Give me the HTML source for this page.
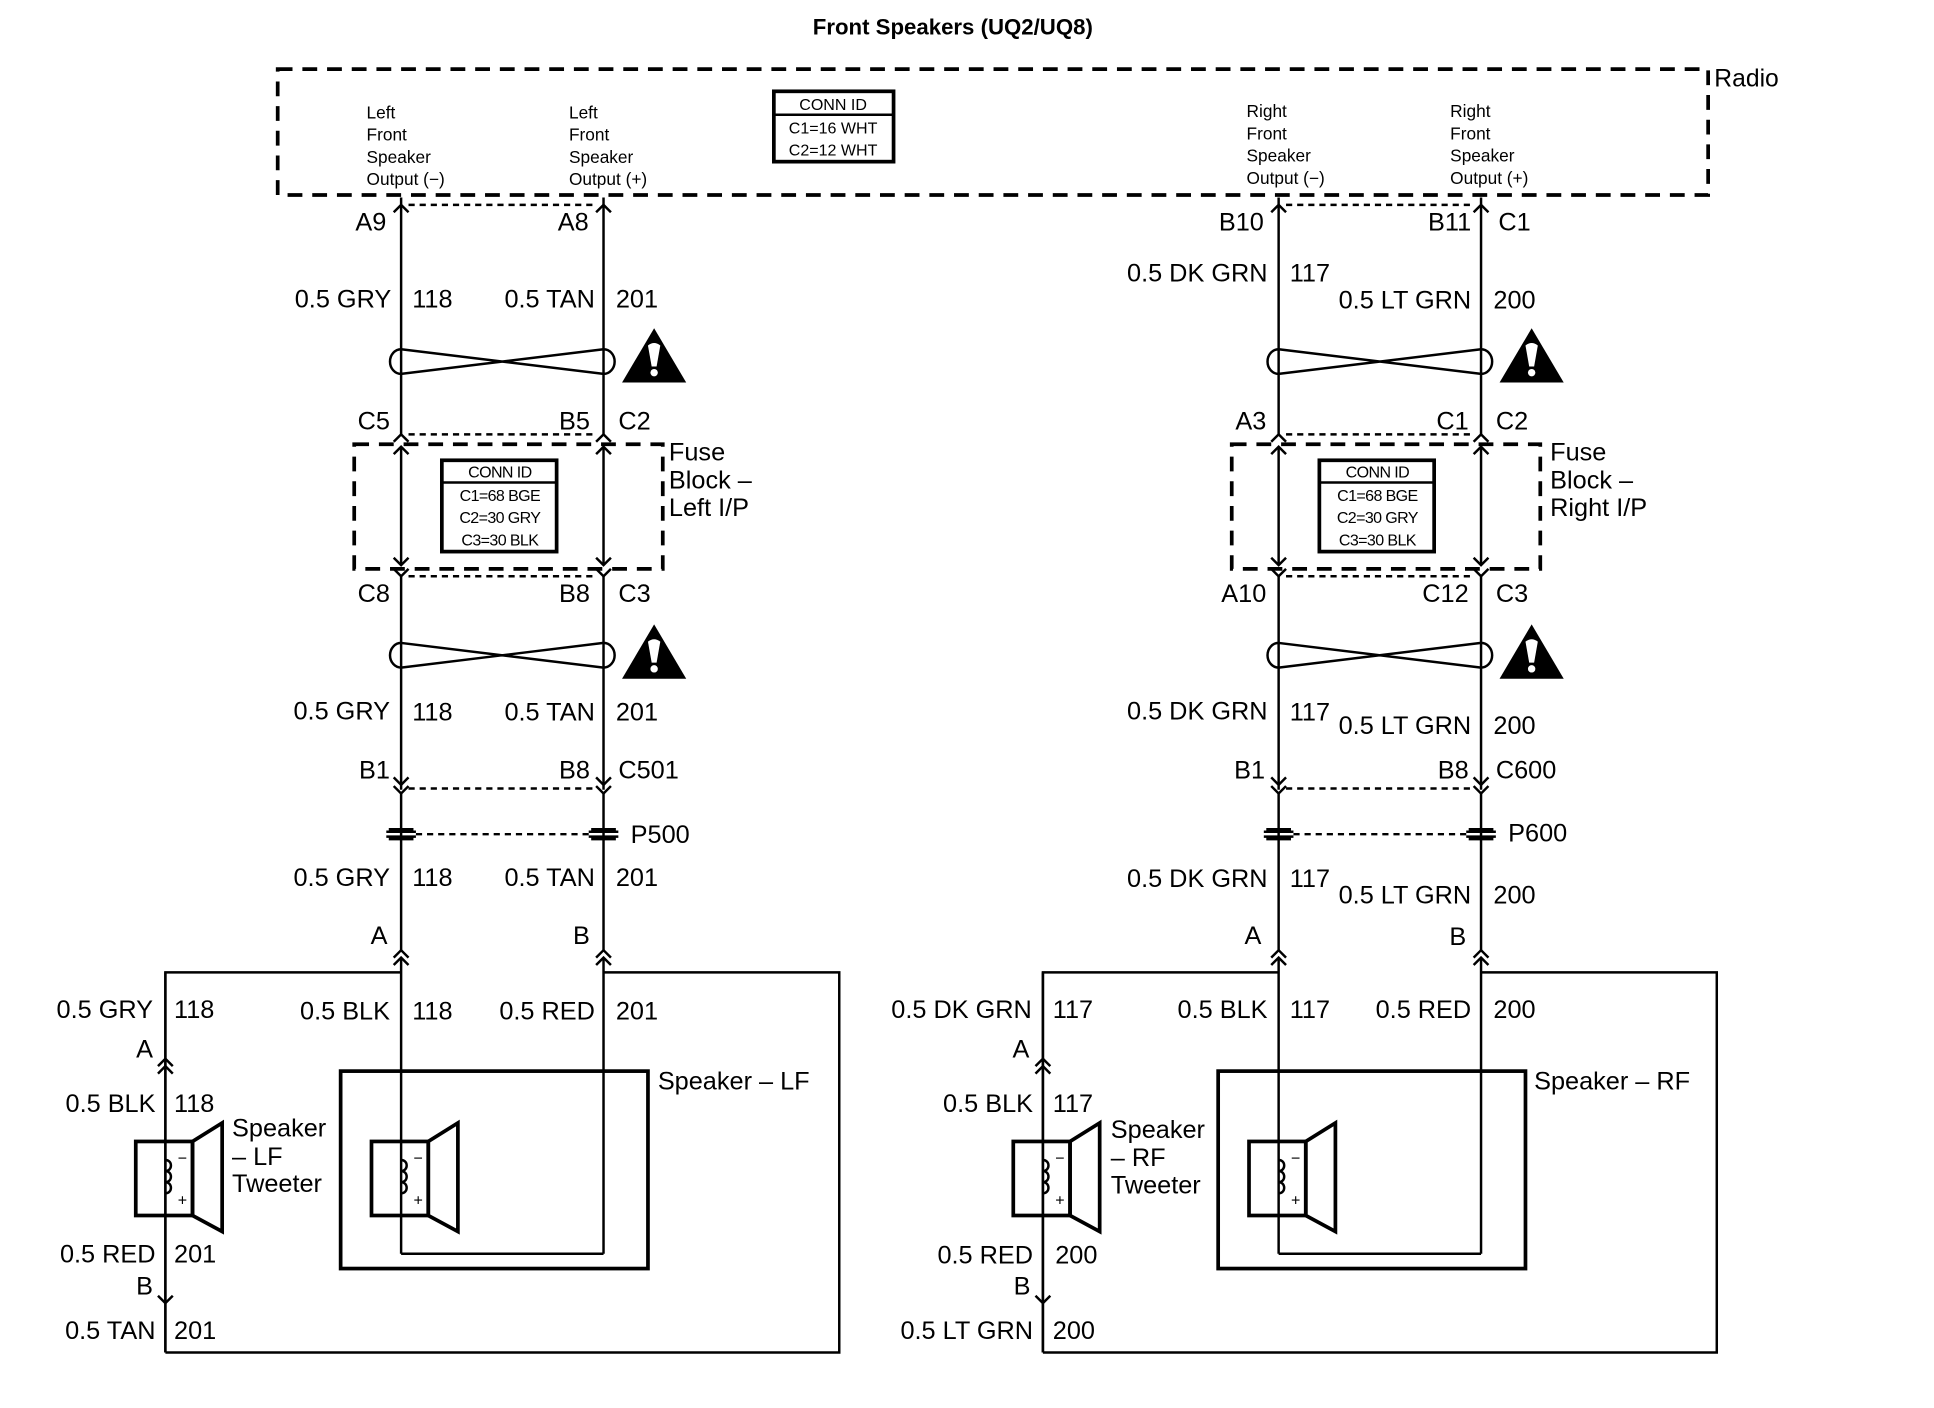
<!DOCTYPE html>
<html><head><meta charset="utf-8"><style>
html,body{margin:0;padding:0;background:#fff;}
svg{display:block}
text{font-family:"Liberation Sans",Arial,sans-serif;fill:#000}
</style></head><body>
<svg width="1934" height="1408" viewBox="0 0 1567 1141" preserveAspectRatio="none" xmlns="http://www.w3.org/2000/svg">
<defs>
<g id="twist" fill="none" stroke="#000" stroke-width="2">
 <path d="M0,-10 L164,10 A9,10 0 0 0 164,-10 L0,10 A9,10 0 0 1 0,-10 Z"/>
</g>
<g id="plug" fill="none" stroke="#000" stroke-width="2"><path d="M-10,-4 H10 M-10,4 H10 M-12,-2 H12 M-12,2 H12"/></g>
<g id="warn">
 <polygon points="0,-24 26,20 -26,20"/>
 <path d="M-5,-10 Q0,-14 5,-10 L2,7 H-2 Z" fill="#fff"/>
 <circle cx="0" cy="12" r="3" fill="#fff"/>
</g>
<g id="spk" fill="none" stroke="#000" stroke-width="3">
 <rect x="-24" y="15" width="46" height="60"/>
 <polygon points="22,15 46,0 46,88 22,75"/>
 <path d="M0,30 c6,0 6,9 0,9 c6,0 6,9 0,9 c6,0 6,9 0,9" stroke-width="2"/>
</g>
<g id="col">
 <g stroke="#000" stroke-width="2" fill="none">
  <line x1="0" y1="160" x2="0" y2="352"/><line x1="164" y1="160" x2="164" y2="352"/>
  <line x1="0" y1="362" x2="0" y2="458"/><line x1="164" y1="362" x2="164" y2="458"/>
  <line x1="0" y1="467" x2="0" y2="640"/><line x1="164" y1="467" x2="164" y2="640"/>
  <line x1="0" y1="643" x2="0" y2="770"/><line x1="164" y1="643" x2="164" y2="770"/>
  <path d="M-6,368 L0,362 L6,368 M-6,452 L0,458 L6,452 M158,368 L164,362 L170,368 M158,452 L164,458 L170,452"/>
  <path d="M-6,630 L0,636 L6,630 M158,630 L164,636 L170,630"/>
  <path d="M-6,637 L0,643 L6,637 M158,637 L164,643 L170,637"/>
  <path d="M-6,172 L0,166 L6,172 M158,172 L164,166 L170,172"/>
  <path d="M-6,358 L0,352 L6,358 M158,358 L164,352 L170,358"/>
  <path d="M-6,461 L0,467 L6,461 M158,461 L164,467 L170,461"/>
  <path d="M-6,776 L0,770 L6,776 M-6,782 L0,776 L6,782 M158,776 L164,770 L170,776 M158,782 L164,776 L170,782"/>
  <line x1="0" y1="776" x2="0" y2="1016"/><line x1="164" y1="776" x2="164" y2="1016"/>
  <line x1="0" y1="1016" x2="164" y2="1016"/>
  <g stroke-dasharray="5,4"><line x1="6" y1="166" x2="158" y2="166"/><line x1="6" y1="352" x2="158" y2="352"/><line x1="6" y1="467" x2="158" y2="467"/><line x1="6" y1="639" x2="158" y2="639"/><line x1="12" y1="676" x2="152" y2="676"/></g>
  <g stroke-dasharray="12,8" stroke-width="3"><rect x="-38" y="360" width="250" height="101"/></g>
 </g>
 <use href="#plug" x="0" y="676"/><use href="#plug" x="164" y="676"/>
 <use href="#twist" x="0" y="293"/><use href="#twist" x="0" y="531"/>
 <use href="#warn" x="205" y="290"/><use href="#warn" x="205" y="530"/>
 <g fill="none" stroke="#000"><rect x="33" y="373" width="93" height="74" stroke-width="3"/><line x1="33" y1="391" x2="126" y2="391" stroke-width="2"/></g>
 <g font-size="13" text-anchor="middle" letter-spacing="-0.5"><text x="80" y="387">CONN ID</text><text x="80" y="406">C1=68 BGE</text><text x="80" y="424">C2=30 GRY</text><text x="80" y="442">C3=30 BLK</text></g>
 <g fill="none" stroke="#000" stroke-width="2">
  <path d="M-191,1096 H355 V788 H164 M0,788 H-191 V1096"/>
  <rect x="-49" y="868" width="249" height="160" stroke-width="3"/>
  <line x1="-191" y1="788" x2="-191" y2="1096"/>
  <path d="M-197,864 L-191,858 L-185,864 M-197,870 L-191,864 L-185,870 M-197,1050 L-191,1056 L-185,1050"/>
 </g>
 <use href="#spk" x="0" y="910"/>
 <use href="#spk" x="-191" y="910"/>
 <g font-size="13"><text x="10" y="943">−</text><text x="10" y="977">+</text><text x="-181" y="943">−</text><text x="-181" y="977">+</text></g>
</g>
</defs>

<text x="772" y="28" font-size="18" font-weight="bold" text-anchor="middle">Front Speakers (UQ2/UQ8)</text>
<rect x="225" y="56" width="1159" height="102" fill="none" stroke="#000" stroke-width="3" stroke-dasharray="12,8"/>
<text x="1389" y="70" font-size="20">Radio</text>
<rect x="627" y="74" width="97" height="57" fill="none" stroke="#000" stroke-width="3"/>
<line x1="627" y1="93" x2="724" y2="93" stroke="#000" stroke-width="2"/>
<g font-size="13" text-anchor="middle"><text x="675" y="89">CONN ID</text><text x="675" y="108">C1=16 WHT</text><text x="675" y="126">C2=12 WHT</text></g>
<g font-size="14">
<text x="297" y="96">Left</text><text x="297" y="114">Front</text><text x="297" y="132">Speaker</text><text x="297" y="150">Output (−)</text>
<text x="461" y="96">Left</text><text x="461" y="114">Front</text><text x="461" y="132">Speaker</text><text x="461" y="150">Output (+)</text>
<text x="1010" y="95">Right</text><text x="1010" y="113">Front</text><text x="1010" y="131">Speaker</text><text x="1010" y="149">Output (−)</text>
<text x="1175" y="95">Right</text><text x="1175" y="113">Front</text><text x="1175" y="131">Speaker</text><text x="1175" y="149">Output (+)</text>
</g>

<use href="#col" x="325" y="0"/>
<use href="#col" x="1036" y="0"/>

<g font-size="20.5">
<text x="313" y="187" text-anchor="end">A9</text><text x="477" y="187" text-anchor="end">A8</text>
<text x="317" y="249" text-anchor="end">0.5 GRY</text><text x="334" y="249">118</text>
<text x="482" y="249" text-anchor="end">0.5 TAN</text><text x="499" y="249">201</text>
<text x="316" y="348" text-anchor="end">C5</text><text x="478" y="348" text-anchor="end">B5</text><text x="501" y="348">C2</text>
<text x="542" y="373">Fuse</text><text x="542" y="396">Block –</text><text x="542" y="418">Left I/P</text>
<text x="316" y="488" text-anchor="end">C8</text><text x="478" y="488" text-anchor="end">B8</text><text x="501" y="488">C3</text>
<text x="316" y="583" text-anchor="end">0.5 GRY</text><text x="334" y="584">118</text>
<text x="482" y="584" text-anchor="end">0.5 TAN</text><text x="499" y="584">201</text>
<text x="316" y="631" text-anchor="end">B1</text><text x="478" y="631" text-anchor="end">B8</text><text x="501" y="631">C501</text>
<text x="511" y="683">P500</text>
<text x="316" y="718" text-anchor="end">0.5 GRY</text><text x="334" y="718">118</text>
<text x="482" y="718" text-anchor="end">0.5 TAN</text><text x="499" y="718">201</text>
<text x="314" y="765" text-anchor="end">A</text><text x="478" y="765" text-anchor="end">B</text>
<text x="124" y="825" text-anchor="end">0.5 GRY</text><text x="141" y="825">118</text>
<text x="316" y="826" text-anchor="end">0.5 BLK</text><text x="334" y="826">118</text>
<text x="482" y="826" text-anchor="end">0.5 RED</text><text x="499" y="826">201</text>
<text x="533" y="883">Speaker – LF</text>
<text x="124" y="857" text-anchor="end">A</text>
<text x="126" y="901" text-anchor="end">0.5 BLK</text><text x="141" y="901">118</text>
<text x="188" y="921">Speaker</text><text x="188" y="944">– LF</text><text x="188" y="966">Tweeter</text>
<text x="126" y="1023" text-anchor="end">0.5 RED</text><text x="141" y="1023">201</text>
<text x="124" y="1049" text-anchor="end">B</text>
<text x="126" y="1085" text-anchor="end">0.5 TAN</text><text x="141" y="1085">201</text>
<text x="1024" y="187" text-anchor="end">B10</text><text x="1192" y="187" text-anchor="end">B11</text><text x="1214" y="187">C1</text>
<text x="1027" y="228" text-anchor="end">0.5 DK GRN</text><text x="1045" y="228">117</text>
<text x="1192" y="250" text-anchor="end">0.5 LT GRN</text><text x="1210" y="250">200</text>
<text x="1026" y="348" text-anchor="end">A3</text><text x="1190" y="348" text-anchor="end">C1</text><text x="1212" y="348">C2</text>
<text x="1256" y="373">Fuse</text><text x="1256" y="396">Block –</text><text x="1256" y="418">Right I/P</text>
<text x="1026" y="488" text-anchor="end">A10</text><text x="1190" y="488" text-anchor="end">C12</text><text x="1212" y="488">C3</text>
<text x="1027" y="583" text-anchor="end">0.5 DK GRN</text><text x="1045" y="584">117</text>
<text x="1192" y="595" text-anchor="end">0.5 LT GRN</text><text x="1210" y="595">200</text>
<text x="1025" y="631" text-anchor="end">B1</text><text x="1190" y="631" text-anchor="end">B8</text><text x="1212" y="631">C600</text>
<text x="1222" y="682">P600</text>
<text x="1027" y="719" text-anchor="end">0.5 DK GRN</text><text x="1045" y="719">117</text>
<text x="1192" y="732" text-anchor="end">0.5 LT GRN</text><text x="1210" y="732">200</text>
<text x="1022" y="765" text-anchor="end">A</text><text x="1188" y="766" text-anchor="end">B</text>
<text x="836" y="825" text-anchor="end">0.5 DK GRN</text><text x="853" y="825">117</text>
<text x="1027" y="825" text-anchor="end">0.5 BLK</text><text x="1045" y="825">117</text>
<text x="1192" y="825" text-anchor="end">0.5 RED</text><text x="1210" y="825">200</text>
<text x="1243" y="883">Speaker – RF</text>
<text x="834" y="857" text-anchor="end">A</text>
<text x="837" y="901" text-anchor="end">0.5 BLK</text><text x="853" y="901">117</text>
<text x="900" y="922">Speaker</text><text x="900" y="945">– RF</text><text x="900" y="967">Tweeter</text>
<text x="837" y="1024" text-anchor="end">0.5 RED</text><text x="855" y="1024">200</text>
<text x="835" y="1049" text-anchor="end">B</text>
<text x="837" y="1085" text-anchor="end">0.5 LT GRN</text><text x="853" y="1085">200</text>
</g>
</svg>
</body></html>
